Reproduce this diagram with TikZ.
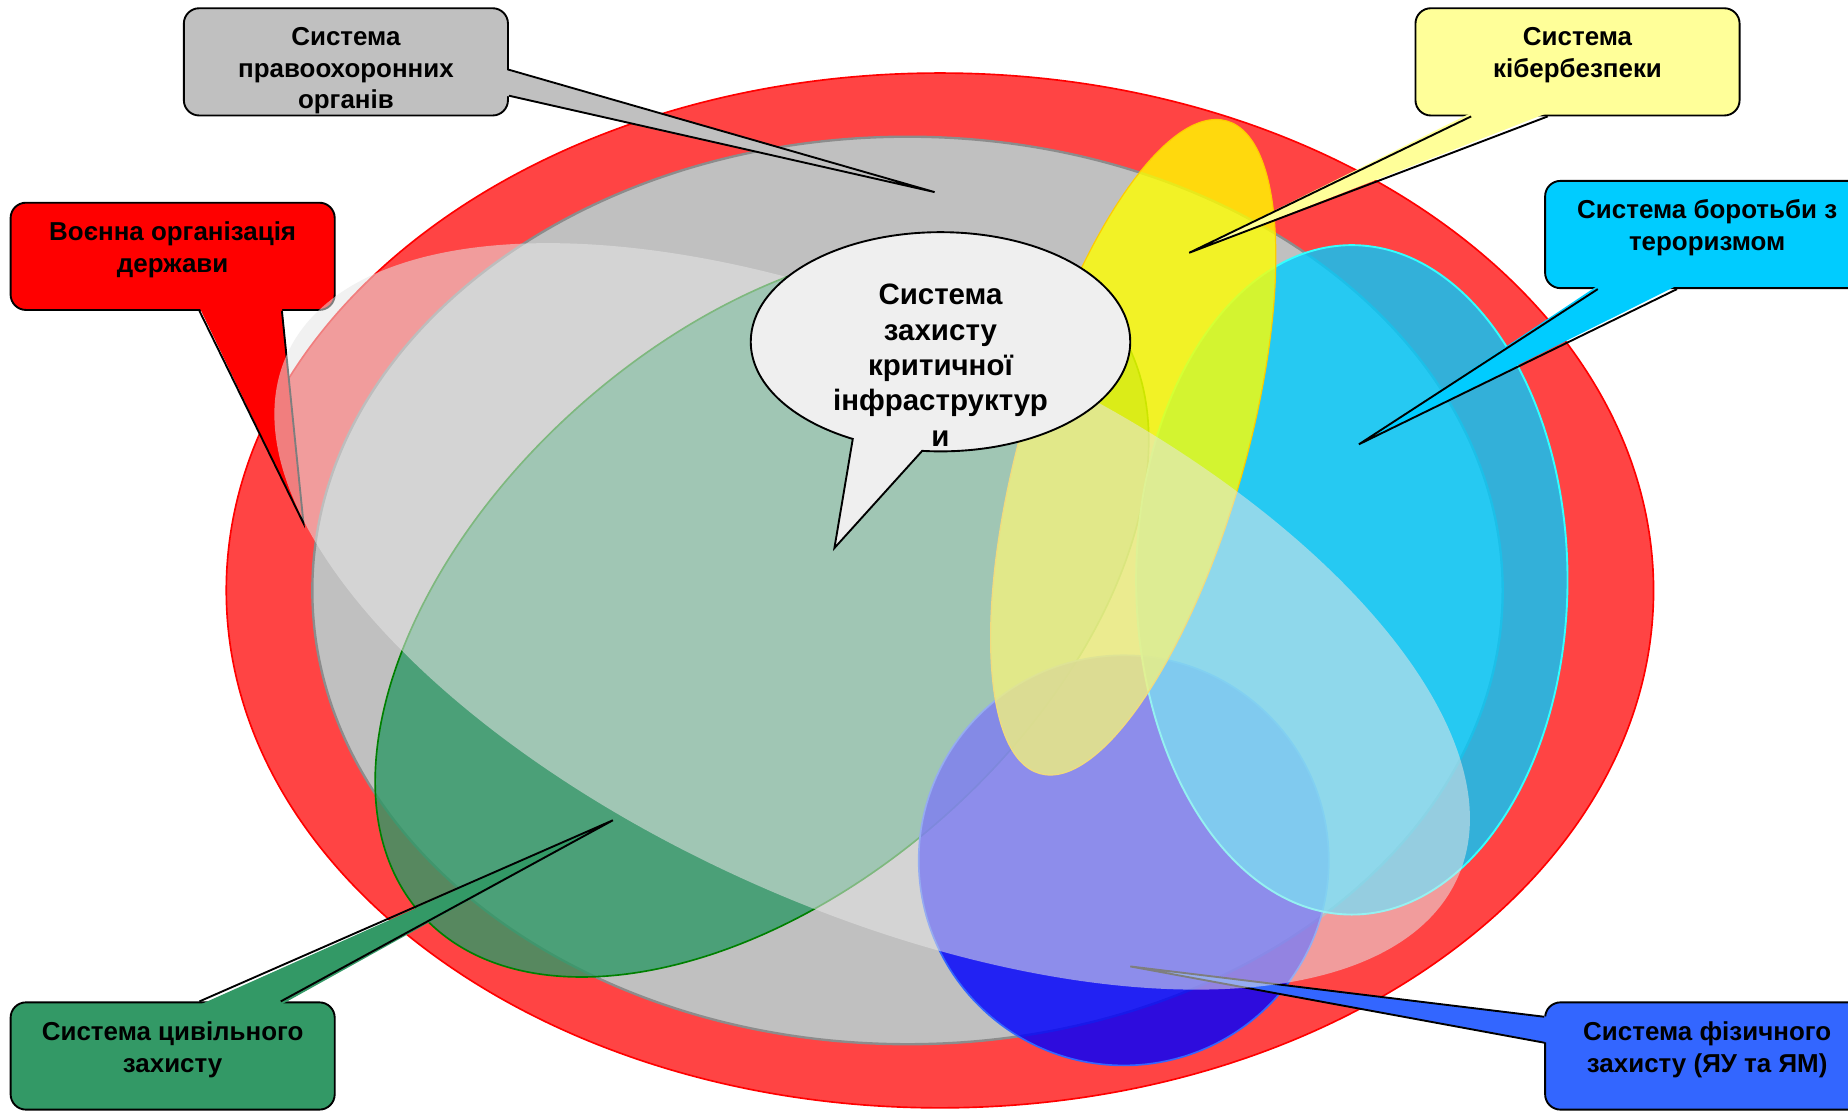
\documentclass[tikz,border=0pt]{standalone}
\usepackage{fontspec}
\setmainfont{Liberation Sans}
\usetikzlibrary{shapes.callouts,shapes.geometric,calc}
\definecolor{ringred}{HTML}{FF4444}
\definecolor{innergray}{HTML}{C0C0C0}
\definecolor{grayrim}{HTML}{8C8C8C}
\definecolor{civgreen}{HTML}{2E9966}
\definecolor{greenrim}{HTML}{008000}
\definecolor{boxgreen}{HTML}{339966}
\definecolor{cyberyellow}{HTML}{FFFF00}
\definecolor{yellowrim}{HTML}{FFCC00}
\definecolor{boxyellow}{HTML}{FFFF99}
\definecolor{terrcyan}{HTML}{00CCFF}
\definecolor{cyanrim}{HTML}{33FFFF}
\definecolor{physblue}{HTML}{0000FF}
\definecolor{bluerim}{HTML}{3366FF}
\definecolor{boxblue}{HTML}{3366FF}
\definecolor{palegray}{HTML}{E6E6E6}
\definecolor{bubblefill}{HTML}{EFEFEF}
\begin{document}
\begin{tikzpicture}[x=0.5pt,y=0.5pt,
  cbox/.style={draw=black, line width=0.8pt, rounded corners=6.5pt, minimum width=137.5pt, minimum height=45.5pt, inner sep=0pt},
  ctext/.style={font=\bfseries\fontsize{11}{13.5}\selectfont, align=center, inner sep=0pt},
  tailline/.style={draw=black, line width=0.8pt, line join=miter},
  bubbletext/.style={font=\bfseries\fontsize{12.5}{15}\selectfont, align=center, inner sep=0pt}
]
\useasboundingbox (0,0) rectangle (1568,942);
\clip (0,0) rectangle (1568,942);
\fill[white] (0,0) rectangle (1568,942);

% outer ring and inner gray
\draw[fill=ringred, draw=red, line width=0.7pt] (797.5,441) ellipse [x radius=605.5, y radius=439];
\draw[fill=innergray, draw=grayrim, line width=1pt] (770,441) ellipse [x radius=505, y radius=385];

% civil defence (green)
\begin{scope}[shift={(646.5,423.5)}, rotate=41.6]
  \draw[fill=civgreen, fill opacity=0.8, draw=greenrim, line width=0.7pt] (0,0) ellipse [x radius=387, y radius=233];
\end{scope}

% physical protection (blue)
\draw[fill=physblue, fill opacity=0.82, draw=bluerim, line width=0.7pt] (953.5,212) circle [radius=174];

% counter-terrorism (cyan)
\draw[fill=terrcyan, fill opacity=0.8, draw=cyanrim, line width=0.8pt] (1147,450) ellipse [x radius=183, y radius=284];

% cybersecurity (yellow)
\begin{scope}[shift={(961.5,562.5)}, rotate=74]
  \draw[fill=cyberyellow, fill opacity=0.8, draw=yellowrim, line width=0.5pt] (0,0) ellipse [x radius=288, y radius=95];
\end{scope}

% callouts lying under the pale ellipse
\node[cbox, fill=red] (rbox) at (146.5,724.5) {};
\coordinate (rtip) at (257.5,498);
\fill[red] ($(rbox.south west)+(161,3)$) -- (rtip) -- ($(rbox.south west)+(231,3)$) -- cycle;
\draw[tailline] ($(rbox.south west)+(161,0)$) -- (rtip) -- ($(rbox.south west)+(231,0)$);

\node[cbox, fill=boxblue] (bbox) at (1448.5,46) {};
\coordinate (btip) at (959,122);
\fill[boxblue] ($(bbox.north west)+(3,-13)$) -- (btip) -- ($(bbox.north west)+(3,-35)$) -- cycle;
\draw[tailline] ($(bbox.north west)+(0,-13)$) -- (btip) -- ($(bbox.north west)+(0,-35)$);

% military organisation (pale translucent ellipse)
\begin{scope}[shift={(740,419)}, rotate=-24]
  \fill[palegray, fill opacity=0.55] (0,0) ellipse [x radius=544, y radius=248];
\end{scope}

% law enforcement callout
\node[cbox, fill=innergray] (gbox) at (293.5,889.5) {};
\coordinate (gtip) at (793,779);
\fill[innergray] ($(gbox.north east)+(-3,-53)$) -- (gtip) -- ($(gbox.north east)+(-3,-75)$) -- cycle;
\draw[tailline] ($(gbox.north east)+(0,-53)$) -- (gtip) -- ($(gbox.north east)+(0,-75)$);

% cybersecurity callout
\node[cbox, fill=boxyellow] (ybox) at (1338.5,889.5) {};
\coordinate (ytip) at (1009,727.5);
\fill[boxyellow] ($(ybox.south west)+(48,3)$) -- (ytip) -- ($(ybox.south west)+(113,3)$) -- cycle;
\draw[tailline] ($(ybox.south west)+(48,0)$) -- (ytip) -- ($(ybox.south west)+(113,0)$);

% counter-terrorism callout
\node[cbox, fill=terrcyan] (cbox) at (1448.5,743) {};
\coordinate (ctip) at (1153,565);
\fill[terrcyan] ($(cbox.south west)+(45.5,3)$) -- (ctip) -- ($(cbox.south west)+(112.7,3)$) -- cycle;
\draw[tailline] ($(cbox.south west)+(45.5,0)$) -- (ctip) -- ($(cbox.south west)+(112.7,0)$);

% civil defence callout
\node[cbox, fill=boxgreen] (vbox) at (146.5,46) {};
\coordinate (vtip) at (520,246);
\fill[boxgreen] ($(vbox.north west)+(161,-3)$) -- (vtip) -- ($(vbox.north west)+(230,-3)$) -- cycle;
\draw[tailline] ($(vbox.north west)+(161,0)$) -- (vtip) -- ($(vbox.north west)+(230,0)$);

% speech bubble
\node[ellipse callout, draw=black, line width=0.8pt, fill=bubblefill, minimum width=161pt, minimum height=93pt, inner sep=0pt, callout absolute pointer={(708,477)}, callout pointer arc=22] (bubble) at (798,652) {};

% texts
\node[ctext] (gtxt) at (293.5,882) {Система\\правоохоронних\\органів};
\node[ctext] (rtxt) at (146.5,730) {Воєнна організація\\держави};
\node[ctext] (ytxt) at (1338.5,895.5) {Система\\кібербезпеки};
\node[ctext] (ctxt) at (1448.5,748.5) {Система боротьби з\\тероризмом};
\node[ctext] (vtxt) at (146.5,51.5) {Система цивільного\\захисту};
\node[ctext] (btxt) at (1448.5,51.5) {Система фізичного\\захисту (ЯУ та ЯМ)};
\node[bubbletext] (bubtxt) at (798,632) {Система\\захисту\\критичної\\інфраструктур\\и};
\end{tikzpicture}
\end{document}
